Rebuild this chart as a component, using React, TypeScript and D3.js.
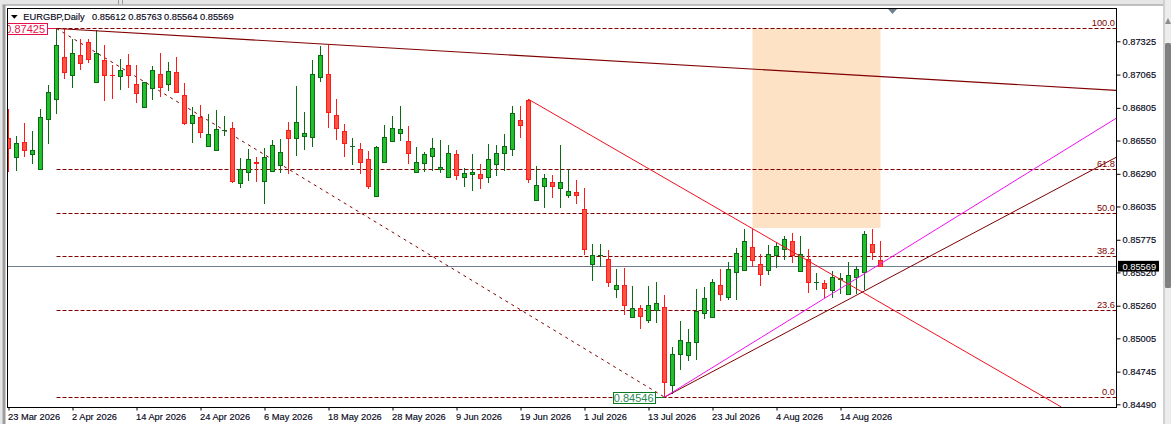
import React, { useRef, useEffect } from "react";
import * as d3 from "d3";

// prices in points (price x 100000), one entry per daily bar
const opens = [
  86568, 86419, 86536, 86440, 86325, 86713, 86872, 87200, 87057, 87216,
  87317, 87005, 87177, 87057, 87049, 87138, 86989, 86810, 86958, 87067,
  86989, 87083, 86903, 86682, 86732, 86505, 86474, 86627, 86646, 86216,
  86302, 86380, 86232, 86310, 86357, 86630, 86567, 86580, 86572, 87044,
  87067, 86747, 86622, 86502, 86481, 86403, 86114, 86380, 86544, 86606,
  86544, 86302, 86372, 86427, 86325, 86262, 86442, 86262, 86286, 86286,
  86262, 86364, 86450, 86481, 86708, 86859, 86083, 86192, 86224, 86177,
  86122, 86145, 86013, 85583, 85649, 85622, 85388, 85419, 85170, 85240,
  85146, 85224, 85248, 84639, 84881, 84870, 84972, 85201, 85170, 85419,
  85326, 85521, 85537, 85716, 85583, 85537, 85654, 85701, 85763, 85529,
  85622, 85440, 85433, 85380, 85464, 85349, 85482, 85521, 85740, 85612,
];
const highs = [
  86797, 86586, 86687, 86625, 86797, 86984, 87425, 87425, 87343, 87343,
  87343, 87414, 87294, 87140, 87185, 87226, 87140, 87005, 87132, 87234,
  87164, 87203, 86997, 86810, 86825, 86755, 86789, 86739, 86693, 86414,
  86482, 86419, 86489, 86555, 86560, 86693, 86976, 86773, 87179, 87288,
  87300, 86874, 86679, 86570, 86531, 86468, 86507, 86671, 86742, 86820,
  86663, 86499, 86460, 86570, 86554, 86515, 86476, 86335, 86445, 86367,
  86523, 86515, 86601, 86820, 86820, 86872, 86351, 86289, 86281, 86515,
  86325, 86242, 86177, 85742, 85742, 85695, 85547, 85555, 85414, 85266,
  85414, 85445, 85341, 84938, 85141, 85078, 85391, 85406, 85469, 85547,
  85602, 85711, 85859, 85859, 85664, 85734, 85750, 85805, 85826, 85805,
  85703, 85516, 85461, 85531, 85513, 85602, 85570, 85841, 85859, 85763,
];
const lows = [
  86307, 86312, 86424, 86367, 86325, 86523, 86758, 87031, 86961, 87104,
  87159, 87002, 86862, 86875, 86945, 86961, 86844, 86810, 86867, 86890,
  86937, 86924, 86669, 86531, 86570, 86503, 86471, 86586, 86221, 86180,
  86234, 86227, 86055, 86307, 86299, 86289, 86429, 86476, 86499, 87007,
  86648, 86554, 86421, 86359, 86289, 86171, 86112, 86377, 86541, 86546,
  86367, 86299, 86304, 86312, 86296, 86260, 86242, 86187, 86156, 86171,
  86218, 86273, 86312, 86429, 86570, 86218, 86080, 86023, 86101, 86023,
  86101, 86054, 85656, 85456, 85565, 85406, 85320, 85188, 85167, 85078,
  85125, 85125, 84546, 84571, 84758, 84829, 84836, 85157, 85170, 85297,
  85305, 85305, 85531, 85563, 85414, 85500, 85555, 85617, 85594, 85526,
  85360, 85383, 85320, 85320, 85352, 85346, 85352, 85383, 85620, 85564,
];
const closes = [
  86489, 86529, 86471, 86474, 86732, 86927, 87294, 87083, 87231, 87151,
  87185, 87231, 87057, 87054, 87099, 87057, 86916, 87005, 87099, 86966,
  87091, 86927, 86685, 86747, 86614, 86599, 86638, 86630, 86229, 86323,
  86404, 86367, 86419, 86513, 86458, 86568, 86692, 86606, 87067, 87215,
  86770, 86645, 86528, 86507, 86380, 86192, 86497, 86575, 86645, 86637,
  86450, 86380, 86442, 86489, 86341, 86450, 86278, 86294, 86302, 86255,
  86403, 86450, 86505, 86762, 86669, 86247, 86200, 86255, 86192, 86224,
  86153, 86122, 85698, 85654, 85654, 85443, 85419, 85263, 85240, 85177,
  85263, 85279, 84662, 84881, 84990, 84974, 85216, 85318, 85443, 85347,
  85544, 85669, 85763, 85615, 85505, 85662, 85724, 85779, 85654, 85662,
  85443, 85445, 85396, 85482, 85474, 85498, 85544, 85818, 85677, 85569,
];

const priceTicks = [
  87325, 87065, 86805, 86550, 86290, 86035, 85775, 85520, 85260, 85005, 84745, 84490,
];
const dateLabels = [
  "23 Mar 2026", "2 Apr 2026", "14 Apr 2026", "24 Apr 2026", "6 May 2026",
  "18 May 2026", "28 May 2026", "9 Jun 2026", "19 Jun 2026", "1 Jul 2026",
  "13 Jul 2026", "23 Jul 2026", "4 Aug 2026", "14 Aug 2026",
];
const barsPerDateLabel = 8;

const fibLevels = [100.0, 61.8, 50.0, 38.2, 23.6, 0.0];
const fibHigh = 87425;
const fibLow = 84546;
const fibStartBar = 6;
const fibEndBar = 82;

const zoneBars = [93, 109];
const zonePrices = [87425, 85867];

// trend lines: [bar, price] anchors, the open ended ones run past the last bar
const fallingResistance = [[6, 87425], [138.46, 86942]];
const fallingRed = [[65, 86872], [131.6, 84469]];
const risingSupport = [[82, 84546], [138.46, 86419]];
const risingMagenta = [[82, 84546], [138.46, 86724]];

const symbolTitle = "EURGBP,Daily";

const FONT = "'Liberation Sans', Arial, sans-serif";
const INK = "#08081a";
const GREEN_EDGE = "#0b6b12";
const GREEN_FILL = "#22c02c";
const RED_EDGE = "#ff1a1a";
const RED_FILL = "#ff5240";
const DARK_RED = "#800000";

const App: React.FC = () => {
  const ref = useRef<SVGSVGElement>(null);

  useEffect(() => {
    const svg = d3.select(ref.current);
    svg.selectAll("*").remove();

    const width = 1171,
      height = 424,
      plot = { left: 8, top: 9, right: 1116, bottom: 407 };

    const x = d3.scaleLinear().domain([0, 1]).range([8.5, 16.5]);
    const y = d3.scaleLinear().domain([84490, 87325]).range([404.3, 41.3]);
    const fmt = (p: number) => d3.format(".5f")(p / 100000);

    const bars = d3.range(opens.length).map((i) => ({
      i,
      open: opens[i],
      high: highs[i],
      low: lows[i],
      close: closes[i],
    }));

    // Window furniture around the chart
    svg.append("rect").attr("width", width).attr("height", height).attr("fill", "#fff");
    svg.append("rect").attr("width", width).attr("height", 4.5).attr("fill", "#e6e6e6");
    svg.append("rect").attr("y", 4.5).attr("width", width).attr("height", 1).attr("fill", "#858585");
    svg.append("rect").attr("x", 118).attr("width", 1).attr("height", 4.5).attr("fill", "#9a9a9a");
    svg.append("rect").attr("x", 122).attr("width", 1).attr("height", 4.5).attr("fill", "#9a9a9a");
    svg.append("rect").attr("x", 0).attr("width", 2.5).attr("height", height).attr("fill", "#e6e6e6");
    svg.append("rect").attr("x", 2.5).attr("y", 5).attr("width", 3).attr("height", height).attr("fill", "#9c9c9c");
    svg.append("rect").attr("x", 1163).attr("width", 8).attr("height", height).attr("fill", "#ececec");
    svg.append("rect").attr("x", 1163.5).attr("width", 1).attr("height", height).attr("fill", "#b5b5b5");
    svg.append("rect").attr("x", 1165).attr("y", 43).attr("width", 6).attr("height", 245).attr("rx", 1.5).attr("fill", "#808080");
    svg.append("path").attr("d", "M1165,24L1168,18L1171,24Z").attr("fill", "#8c8c8c");

    const clip = svg.append("defs").append("clipPath").attr("id", "plot-clip");
    clip
      .append("rect")
      .attr("x", plot.left)
      .attr("y", plot.top)
      .attr("width", plot.right - plot.left)
      .attr("height", plot.bottom - plot.top);

    const chart = svg.append("g").attr("clip-path", "url(#plot-clip)");

    // Zone rectangle sits behind everything
    chart
      .append("rect")
      .attr("x", x(zoneBars[0]))
      .attr("y", y(zonePrices[0]))
      .attr("width", x(zoneBars[1]) - x(zoneBars[0]))
      .attr("height", y(zonePrices[1]) - y(zonePrices[0]))
      .attr("fill", "#fee2c5");

    // Last price line
    chart
      .append("line")
      .attr("x1", plot.left)
      .attr("x2", plot.right)
      .attr("y1", Math.round(y(closes[closes.length - 1])) + 0.5)
      .attr("y2", Math.round(y(closes[closes.length - 1])) + 0.5)
      .attr("stroke", "#708090")
      .attr("stroke-width", 1);

    // Fibonacci levels
    const fibPrice = (lvl: number) => fibLow + ((fibHigh - fibLow) * lvl) / 100;
    chart
      .selectAll("line.fib")
      .data(fibLevels)
      .enter()
      .append("line")
      .attr("class", "fib")
      .attr("x1", x(fibStartBar))
      .attr("x2", plot.right)
      .attr("y1", (d) => Math.round(y(fibPrice(d))) + 0.5)
      .attr("y2", (d) => Math.round(y(fibPrice(d))) + 0.5)
      .attr("stroke", DARK_RED)
      .attr("stroke-dasharray", "4,2");

    chart
      .append("line")
      .attr("x1", x(fibStartBar))
      .attr("y1", y(fibHigh))
      .attr("x2", x(fibEndBar))
      .attr("y2", y(fibLow))
      .attr("stroke", DARK_RED)
      .attr("stroke-dasharray", "3,4");

    // Candles
    const candle = chart
      .selectAll("g.bar")
      .data(bars)
      .enter()
      .append("g")
      .attr("class", "bar")
      .attr("shape-rendering", "crispEdges");

    candle
      .append("line")
      .attr("x1", (d) => x(d.i))
      .attr("x2", (d) => x(d.i))
      .attr("y1", (d) => y(d.high))
      .attr("y2", (d) => y(d.low))
      .attr("stroke", (d) => (d.close >= d.open ? GREEN_EDGE : RED_EDGE));

    candle
      .filter((d) => Math.abs(y(d.open) - y(d.close)) >= 1)
      .append("rect")
      .attr("x", (d) => x(d.i) - 2)
      .attr("width", 4)
      .attr("y", (d) => y(Math.max(d.open, d.close)))
      .attr("height", (d) => Math.abs(y(d.open) - y(d.close)))
      .attr("fill", (d) => (d.close >= d.open ? GREEN_FILL : RED_FILL))
      .attr("stroke", (d) => (d.close >= d.open ? GREEN_EDGE : RED_EDGE));

    candle
      .filter((d) => Math.abs(y(d.open) - y(d.close)) < 1)
      .append("line")
      .attr("x1", (d) => x(d.i) - 2.5)
      .attr("x2", (d) => x(d.i) + 2.5)
      .attr("y1", (d) => y(d.close))
      .attr("y2", (d) => y(d.close))
      .attr("stroke", (d) => (d.close >= d.open ? GREEN_EDGE : RED_EDGE));

    // Trend lines
    const trend = d3
      .line<number[]>()
      .x((d) => x(d[0]))
      .y((d) => y(d[1]));

    const trendLines = [
      { pts: fallingResistance, color: DARK_RED, w: 1.15 },
      { pts: fallingRed, color: "#f01020", w: 1 },
      { pts: risingSupport, color: DARK_RED, w: 1 },
      { pts: risingMagenta, color: "#f010f0", w: 1 },
    ];
    chart
      .selectAll("path.trend")
      .data(trendLines)
      .enter()
      .append("path")
      .attr("class", "trend")
      .attr("d", (d) => trend(d.pts))
      .attr("fill", "none")
      .attr("stroke", (d) => d.color)
      .attr("stroke-width", (d) => d.w);

    // Fibonacci labels
    chart
      .selectAll("text.fib-label")
      .data(fibLevels)
      .enter()
      .append("text")
      .attr("class", "fib-label")
      .attr("x", plot.right - 1)
      .attr("y", (d) => y(fibPrice(d)) - 2)
      .attr("text-anchor", "end")
      .attr("font-family", FONT)
      .attr("font-size", 9.3)
      .attr("fill", DARK_RED)
      .text((d) => d.toFixed(1));

    // High and low price tags
    const tags = [
      { price: fibHigh, bar: fibStartBar, x0: 7, x1: 46.5, color: "#e8104a", textEnd: 45 },
      { price: fibLow, bar: 82, x0: 612.5, x1: 655, color: "#0a7a1e", textEnd: 653.5 },
    ];
    tags.forEach((t, idx) => {
      const py = Math.round(y(t.price)) + 0.5;
      chart.append("line").attr("x1", t.x1).attr("x2", x(t.bar)).attr("y1", py).attr("y2", py).attr("stroke", t.color);
      const tagClip = svg.append("clipPath").attr("id", `tag-${idx}`);
      tagClip.append("rect").attr("x", t.x0).attr("y", py - 6).attr("width", t.x1 - t.x0).attr("height", 12);
      chart
        .append("rect")
        .attr("x", t.x0 + 0.5)
        .attr("y", py - 5.5)
        .attr("width", t.x1 - t.x0)
        .attr("height", 11.5)
        .attr("fill", "#fff")
        .attr("stroke", t.color)
        .attr("shape-rendering", "crispEdges");
      chart
        .append("text")
        .attr("x", t.textEnd)
        .attr("y", py + 4)
        .attr("text-anchor", "end")
        .attr("clip-path", `url(#tag-${idx})`)
        .attr("font-family", FONT)
        .attr("font-size", 11)
        .attr("fill", idx === 0 ? t.color : "#2a8a52")
        .text(fmt(t.price));
    });

    // Frame
    svg
      .append("rect")
      .attr("x", 7.5)
      .attr("y", 8.5)
      .attr("width", 1109)
      .attr("height", 399)
      .attr("fill", "none")
      .attr("stroke", "#000")
      .attr("shape-rendering", "crispEdges");

    // Scroll marker on the top edge
    svg.append("path").attr("d", "M888,9L897,9L892.5,14Z").attr("fill", "#708090");

    // Price axis
    svg
      .append("g")
      .attr("transform", "translate(1116.5,0)")
      .call(
        d3
          .axisRight(y)
          .tickValues(priceTicks)
          .tickSize(4)
          .tickPadding(2)
          .tickFormat((d) => fmt(+d))
      )
      .call((g) => g.select(".domain").remove())
      .call((g) => g.selectAll("line").attr("stroke", "#000"))
      .selectAll("text")
      .attr("fill", INK)
      .attr("stroke", INK)
      .attr("stroke-width", 0.15)
      .style("font-family", FONT)
      .style("font-size", "9.3px");

    // Date axis
    const dateTicks = dateLabels.map((_, k) => k * barsPerDateLabel);
    svg
      .append("g")
      .attr("transform", "translate(0,407.5)")
      .call(
        d3
          .axisBottom(x)
          .tickValues(dateTicks)
          .tickSize(3)
          .tickSizeOuter(0)
          .tickFormat((d) => dateLabels[+d / barsPerDateLabel])
      )
      .call((g) => g.select(".domain").remove())
      .call((g) => g.selectAll("line").attr("stroke", "#000"))
      .selectAll("text")
      .attr("x", -1)
      .attr("y", 12.5)
      .attr("dy", 0)
      .attr("text-anchor", "start")
      .attr("fill", INK)
      .attr("stroke", INK)
      .attr("stroke-width", 0.15)
      .style("font-family", FONT)
      .style("font-size", "9.3px");

    // Last price box
    const last = closes[closes.length - 1];
    svg.append("rect").attr("x", 1118).attr("y", y(last) - 5.3).attr("width", 41).attr("height", 10.7).attr("fill", "#000");
    svg
      .append("text")
      .attr("x", 1122.5)
      .attr("y", y(last) + 3.4)
      .attr("font-family", FONT)
      .attr("font-size", 9.3)
      .attr("fill", "#fff")
      .text(fmt(last));

    // Header
    svg.append("path").attr("d", "M11,15L17.7,15L14.3,18.7Z").attr("fill", "#000");
    const headerItems = [
      { x: 23.3, text: symbolTitle },
      { x: 92, text: fmt(opens[opens.length - 1]) },
      { x: 128.3, text: fmt(highs[highs.length - 1]) },
      { x: 164, text: fmt(lows[lows.length - 1]) },
      { x: 200, text: fmt(closes[closes.length - 1]) },
    ];
    svg
      .selectAll("text.header")
      .data(headerItems)
      .enter()
      .append("text")
      .attr("class", "header")
      .attr("x", (d) => d.x)
      .attr("y", 20)
      .attr("font-family", FONT)
      .attr("font-size", 9.3)
      .attr("fill", INK)
      .attr("stroke", INK)
      .attr("stroke-width", 0.15)
      .text((d) => d.text);
  }, []);

  return (
    <svg
      ref={ref}
      width={1171}
      height={424}
      style={{ position: "absolute", left: 0, top: 0, display: "block" }}
    />
  );
};

export default App;
